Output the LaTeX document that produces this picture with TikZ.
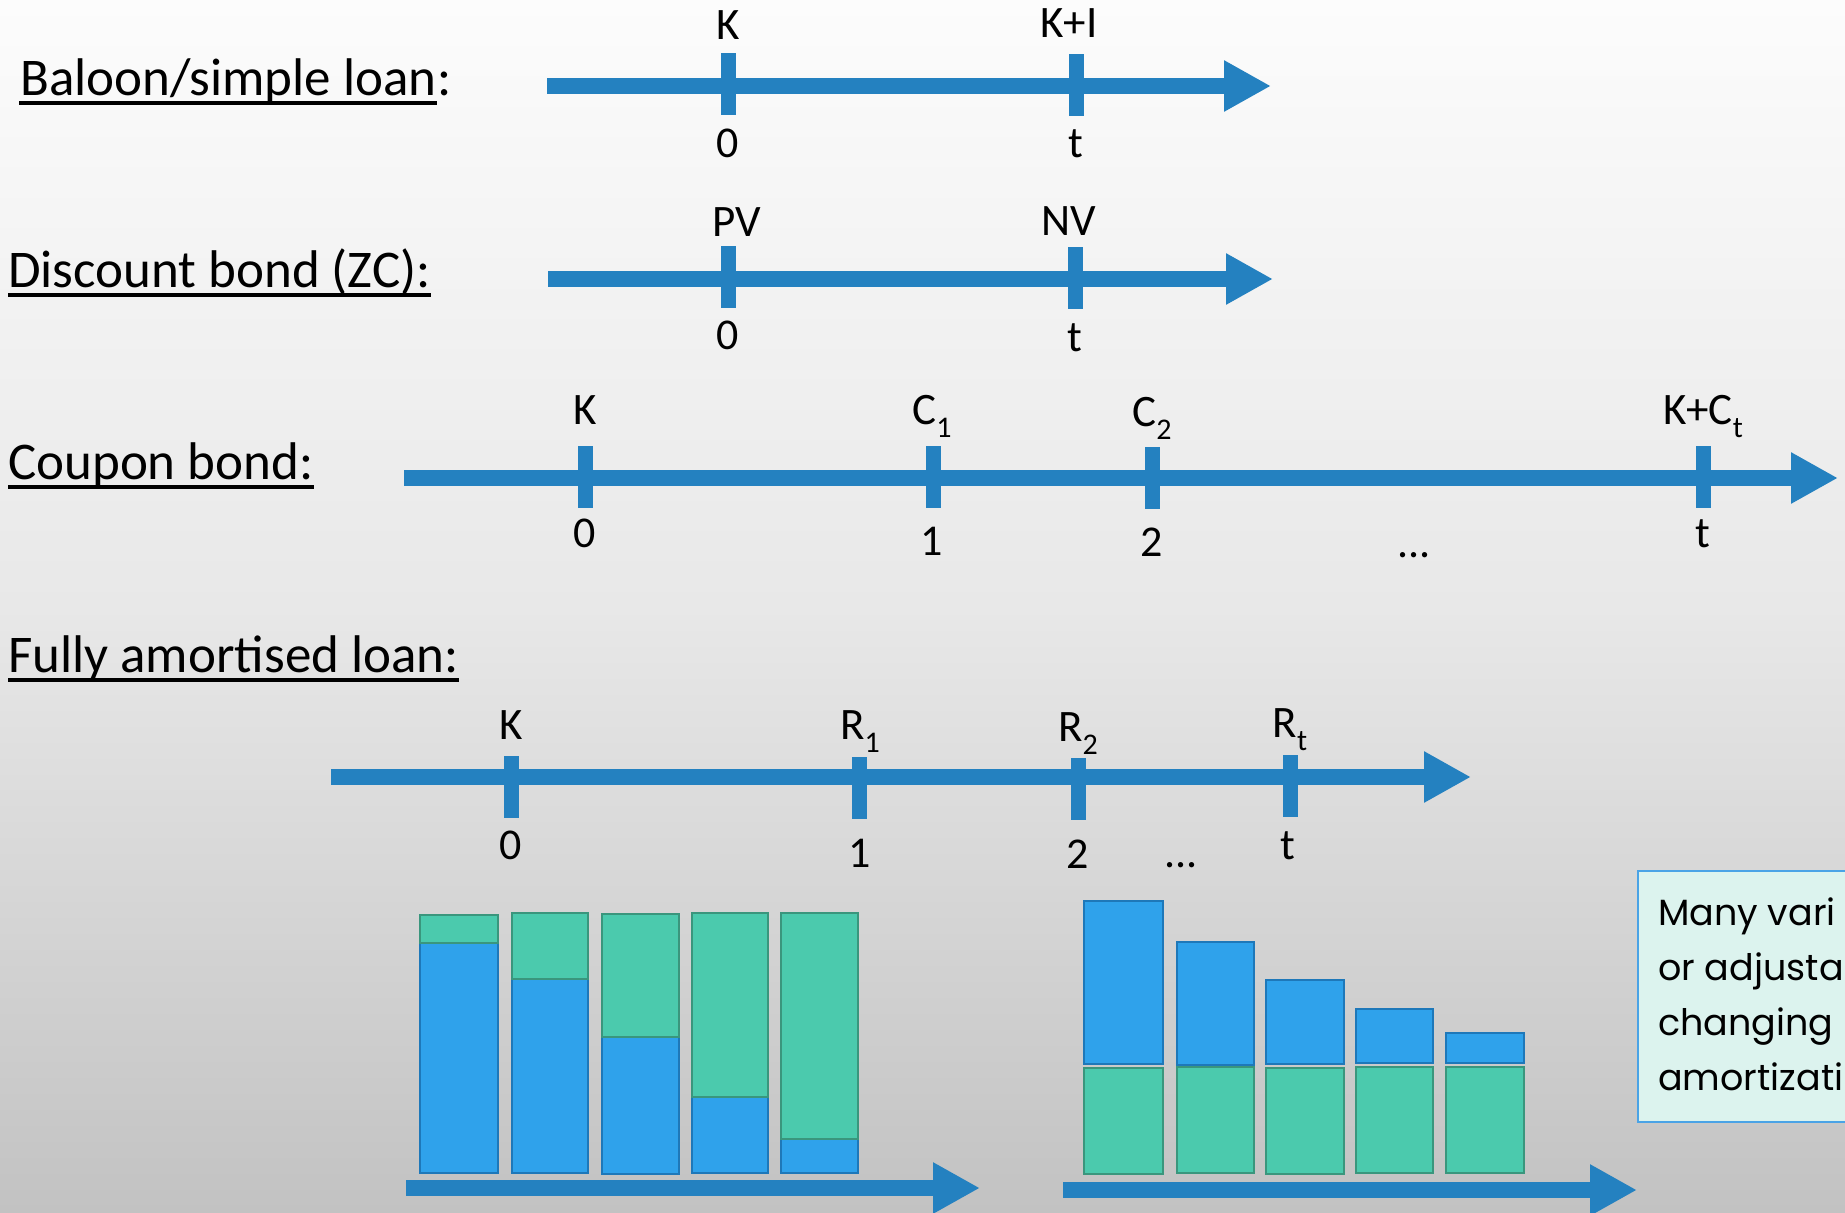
\documentclass[tikz,border=0pt]{standalone}
\usepackage{fontspec}
\setmainfont{Carlito}
\newfontfamily\boxfont{Poppins}
\usetikzlibrary{arrows.meta,calc}
\definecolor{tlblue}{RGB}{36,129,192}
\definecolor{barblue}{RGB}{47,162,235}
\definecolor{barblueb}{RGB}{30,120,185}
\definecolor{bargreen}{RGB}{75,202,173}
\definecolor{bargreenb}{RGB}{58,150,125}
\definecolor{boxfill}{RGB}{220,243,238}
\definecolor{boxborder}{RGB}{74,163,230}
\newcommand\mysub[1]{\raisebox{-0.3em}{\fontsize{30}{30}\selectfont #1}}
\tikzset{
  tl/.style={line width=16pt, draw=tlblue, -{Triangle[length=47pt,width=48pt]}},
  tick/.style={rectangle, fill=tlblue, minimum width=15pt, minimum height=62pt, inner sep=0pt},
  toplab/.style={font=\fontsize{45}{50}\selectfont, anchor=base, inner sep=0pt},
  botlab/.style={font=\fontsize{44}{48}\selectfont, anchor=base, inner sep=0pt},
  ttl/.style={font=\fontsize{53}{60}\selectfont, anchor=base west, inner sep=0pt},
  uline/.style={line width=3.2pt, draw=black},
  bbar/.style={fill=barblue, draw=barblueb, line width=2pt},
  gbar/.style={fill=bargreen, draw=bargreenb, line width=2pt},
  boxtxt/.style={font=\boxfont\fontsize{36.5}{40}\selectfont, anchor=base west, inner sep=0pt},
}
\begin{document}
\begin{tikzpicture}[x=1pt,y=-1pt]
\useasboundingbox (0,0) rectangle (1845,1213);
\shade[top color={rgb,255:red,252;green,252;blue,252}, bottom color={rgb,255:red,194;green,194;blue,194}, middle color={rgb,255:red,232;green,232;blue,232}] (0,0) rectangle (1845,1213);

% ---------- Titles ----------
\node[ttl] (ttl1) at (20,95) {Baloon/simple loan};
\node[ttl] (ttl1c) at (ttl1.base east) {:};
\draw[uline] ($(ttl1.base west)+(-1,8)$) -- ($(ttl1.base east)+(0,8)$);
\node[ttl] (ttl2) at (8,287) {Discount bond (ZC):};
\draw[uline] ($(ttl2.base west)+(0,8)$) -- ($(ttl2.base east)+(0,8)$);
\node[ttl] (ttl3) at (8,479) {Coupon bond:};
\draw[uline] ($(ttl3.base west)+(0,8)$) -- ($(ttl3.base east)+(0,8)$);
\node[ttl] (ttl4) at (8,672) {Fully amortised loan:};
\draw[uline] ($(ttl4.base west)+(0,8)$) -- ($(ttl4.base east)+(0,8)$);

% ---------- Row 1 ----------
\coordinate (a1s) at (547,86);
\coordinate (a1e) at (1271,86);
\draw[tl] (a1s) -- (a1e);
\node[tick] (a1k0) at (728,84) {};
\node[tick] (a1kt) at (1076,85) {};
\node[toplab] (a1u0) at (728,39) {K};
\node[toplab] (a1ut) at (1069,37) {K+I};
\node[botlab] (a1b0) at (728,157) {0};
\node[botlab] (a1bt) at (1076,157) {t};

% ---------- Row 2 ----------
\coordinate (a2s) at (548,279);
\coordinate (a2e) at (1273,279);
\draw[tl] (a2s) -- (a2e);
\node[tick] (a2k0) at (728,277) {};
\node[tick] (a2kt) at (1075,278) {};
\node[toplab] (a2u0) at (737,236) {PV};
\node[toplab] (a2ut) at (1069,235) {NV};
\node[botlab] (a2b0) at (728,349) {0};
\node[botlab] (a2bt) at (1075,351) {t};

% ---------- Row 3 ----------
\coordinate (a3s) at (404,478);
\coordinate (a3e) at (1838,478);
\draw[tl] (a3s) -- (a3e);
\node[tick] (a3k0) at (585,477) {};
\node[tick] (a3k1) at (933,477) {};
\node[tick] (a3k2) at (1152,478) {};
\node[tick] (a3kt) at (1703,477) {};
\node[toplab] (a3u0) at (585,424) {K};
\node[toplab] (a3u1) at (932,424) {C\mysub{1}};
\node[toplab] (a3u2) at (1152,426) {C\mysub{2}};
\node[toplab] (a3ut) at (1703,424) {K+C\mysub{t}};
\node[botlab] (a3b0) at (585,547) {0};
\node[botlab] (a3b1) at (932,555) {1};
\node[botlab] (a3b2) at (1152,556) {2};
\node[botlab] (a3bd) at (1414,557) {...};
\node[botlab] (a3bt) at (1703,547) {t};

% ---------- Row 4 ----------
\coordinate (a4s) at (331,777);
\coordinate (a4e) at (1471,777);
\draw[tl] (a4s) -- (a4e);
\node[tick] (a4k0) at (511,787) {};
\node[tick] (a4k1) at (859,788) {};
\node[tick] (a4k2) at (1078,789) {};
\node[tick] (a4kt) at (1290,786) {};
\node[toplab] (a4u0) at (511,739) {K};
\node[toplab] (a4u1) at (860,739) {R\mysub{1}};
\node[toplab] (a4u2) at (1078,741) {R\mysub{2}};
\node[toplab] (a4ut) at (1290,737) {R\mysub{t}};
\node[botlab] (a4b0) at (511,859) {0};
\node[botlab] (a4b1) at (860,867) {1};
\node[botlab] (a4b2) at (1078,868) {2};
\node[botlab] (a4bd) at (1181,867) {...};
\node[botlab] (a4bt) at (1288,859) {t};

% ---------- Left bar group ----------
\draw[bbar] (420,943) rectangle (498,1173);
\draw[gbar] (420,915) rectangle (498,943);
\draw[bbar] (512,979) rectangle (588,1173);
\draw[gbar] (512,913) rectangle (588,979);
\draw[bbar] (602,1037) rectangle (679,1174);
\draw[gbar] (602,914) rectangle (679,1037);
\draw[bbar] (692,1097) rectangle (768,1173);
\draw[gbar] (692,913) rectangle (768,1097);
\draw[bbar] (781,1139) rectangle (858,1173);
\draw[gbar] (781,913) rectangle (858,1139);
\coordinate (l5s) at (406,1188);
\coordinate (l5e) at (980,1188);
\draw[tl] (l5s) -- (l5e);

% ---------- Right bar group ----------
\draw[bbar] (1084,901) rectangle (1163,1064);
\draw[gbar] (1084,1068) rectangle (1163,1174);
\draw[bbar] (1177,942) rectangle (1254,1065);
\draw[gbar] (1177,1067) rectangle (1254,1173);
\draw[bbar] (1266,980) rectangle (1344,1064);
\draw[gbar] (1266,1068) rectangle (1344,1174);
\draw[bbar] (1356,1009) rectangle (1433,1063);
\draw[gbar] (1356,1067) rectangle (1433,1173);
\draw[bbar] (1446,1033) rectangle (1524,1063);
\draw[gbar] (1446,1067) rectangle (1524,1173);
\coordinate (r5s) at (1063,1190);
\coordinate (r5e) at (1637,1190);
\draw[tl] (r5s) -- (r5e);

% ---------- Text box ----------
\node[draw=boxborder, fill=boxfill, line width=2pt, minimum width=320pt, minimum height=251pt, anchor=north west, inner sep=0pt] (box) at (1637,870) {};
\node[boxtxt] (bx1) at (1658,925) {Many vari};
\node[boxtxt] (bx2) at (1658,980) {or adjusta};
\node[boxtxt] (bx3) at (1658,1035) {changing};
\node[boxtxt] (bx4) at (1658,1090) {amortizati};
\end{tikzpicture}
\end{document}
